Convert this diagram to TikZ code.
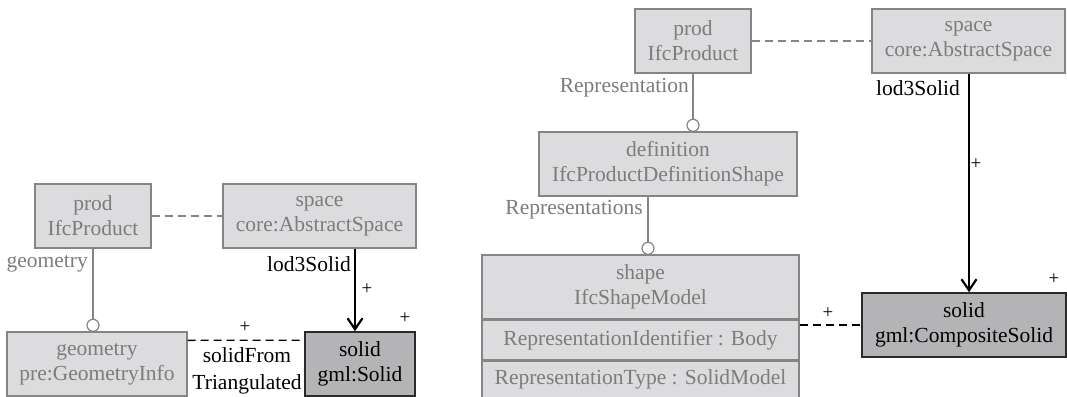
\documentclass[tikz,border=0pt]{standalone}
\usepackage{fontspec}
\setmainfont{Liberation Serif}
\usetikzlibrary{arrows.meta}
\definecolor{boxfill}{HTML}{DCDCDE}
\definecolor{boxline}{HTML}{858585}
\definecolor{boxtext}{HTML}{7C7C7C}
\definecolor{solidfill}{HTML}{B4B4B6}
\definecolor{solidline}{HTML}{2A2A2A}
\tikzset{
  every node/.style={font=\fontsize{21.5}{25}\selectfont},
  classbox/.style={draw=boxline, fill=boxfill, text=boxtext, line width=1.4pt,
    align=center, inner sep=0pt, minimum height=64},
  solidbox/.style={draw=solidline, fill=solidfill, text=black, line width=1.6pt,
    align=center, inner sep=0pt, minimum height=64},
  attrbox/.style={draw=boxline, fill=boxfill, text=boxtext, line width=1.4pt,
    align=center, inner sep=0pt},
  grayline/.style={draw=boxline, line width=1.4pt},
  graydash/.style={draw=boxline, line width=1.4pt, dash pattern=on 8pt off 5pt},
  blackdash/.style={draw=black, line width=1.4pt, dash pattern=on 8pt off 5pt},
  refline/.style={draw=black, line width=1.8pt,
    -{Straight Barb[length=11pt, width=15pt, line width=2.2pt]}},
  ringend/.style={draw=boxline, fill=white, line width=1.2pt},
  graylabel/.style={text=boxtext, inner sep=0pt},
  blacklabel/.style={text=black, inner sep=0pt},
  mult/.style={text=black, inner sep=0pt, font=\fontsize{19}{22}\selectfont},
}
\begin{document}
\begin{tikzpicture}[x=1pt, y=-1pt]
\useasboundingbox (0,0) rectangle (1067,396);

% ---------- left diagram ----------
\node[classbox, minimum width=116] (lprod) at (93,216) {prod\\IfcProduct};
\node[classbox, minimum width=193] (lspace) at (319.5,216) {space\\core:AbstractSpace};
\node[classbox, minimum width=180] (lgeom) at (97,364) {geometry\\pre:GeometryInfo};
\node[solidbox, minimum width=110] (lsolid) at (360,364) {solid\\gml:Solid};

\draw[graydash] (lprod.east) -- (lspace.west);
\draw[grayline] (lprod.south) -- ([yshift=12pt]lprod.south |- lgeom.north);
\draw[ringend] ([yshift=6pt]lprod.south |- lgeom.north) circle (6pt);
\draw[blackdash] ([yshift=-9pt]lgeom.north east) -- ([yshift=-9pt]lsolid.north west);
\draw[refline] ([xshift=-5pt]lsolid.north |- lspace.south) -- ([xshift=-5pt]lsolid.north);

\node[graylabel, anchor=east] (lgeomlbl) at (88,264) {geometry};
\node[blacklabel, anchor=east] (llodlbl) at (351,264) {lod3Solid};
\node[mult] (lplusa) at (367,289) {+};
\node[mult] (lplusb) at (405,318) {+};
\node[mult] (lplusc) at (245,327) {+};
\node[blacklabel, align=center, font=\fontsize{21.5}{27}\selectfont] (lsft) at (247,371) {solidFrom\\Triangulated};

% ---------- right diagram ----------
\node[classbox, minimum width=116] (rprod) at (693,41) {prod\\IfcProduct};
\node[classbox, minimum width=193] (rspace) at (968.5,41) {space\\core:AbstractSpace};
\node[classbox, minimum width=258] (rdef) at (668,164) {definition\\IfcProductDefinitionShape};
\node[classbox, minimum width=317] (rshape) at (640.5,287) {shape\\IfcShapeModel};
\node[attrbox, minimum width=317, minimum height=39, anchor=north] (rattra) at (rshape.south) {RepresentationIdentifier : Body};
\node[attrbox, minimum width=317, minimum height=37, anchor=north] (rattrb) at (rattra.south) {RepresentationType : SolidModel};
\node[solidbox, minimum width=204] (rsolid) at (964,325) {solid\\gml:CompositeSolid};

\draw[graydash] (rprod.east) -- (rspace.west);
\draw[grayline] (rprod.south) -- ([yshift=12pt]rprod.south |- rdef.north);
\draw[ringend] ([yshift=6pt]rprod.south |- rdef.north) circle (6pt);
\draw[grayline] ([xshift=-20pt]rdef.south) -- ([xshift=-20pt,yshift=12pt]rdef.south |- rshape.north);
\draw[ringend] ([xshift=-20pt,yshift=6pt]rdef.south |- rshape.north) circle (6pt);
\draw[blackdash] (rsolid.west -| rshape.east) -- (rsolid.west);
\draw[refline] ([xshift=5pt]rsolid.north |- rspace.south) -- ([xshift=5pt]rsolid.north);

\node[graylabel, anchor=east] (rreplbl) at (689,88) {Representation};
\node[blacklabel, anchor=west] (rlodlbl) at (876,88) {lod3Solid};
\node[graylabel, anchor=east] (rrepslbl) at (643,210) {Representations};
\node[mult] (rplusa) at (976,164) {+};
\node[mult] (rplusb) at (1054,279) {+};
\node[mult] (rplusc) at (828,313) {+};
\end{tikzpicture}
\end{document}
